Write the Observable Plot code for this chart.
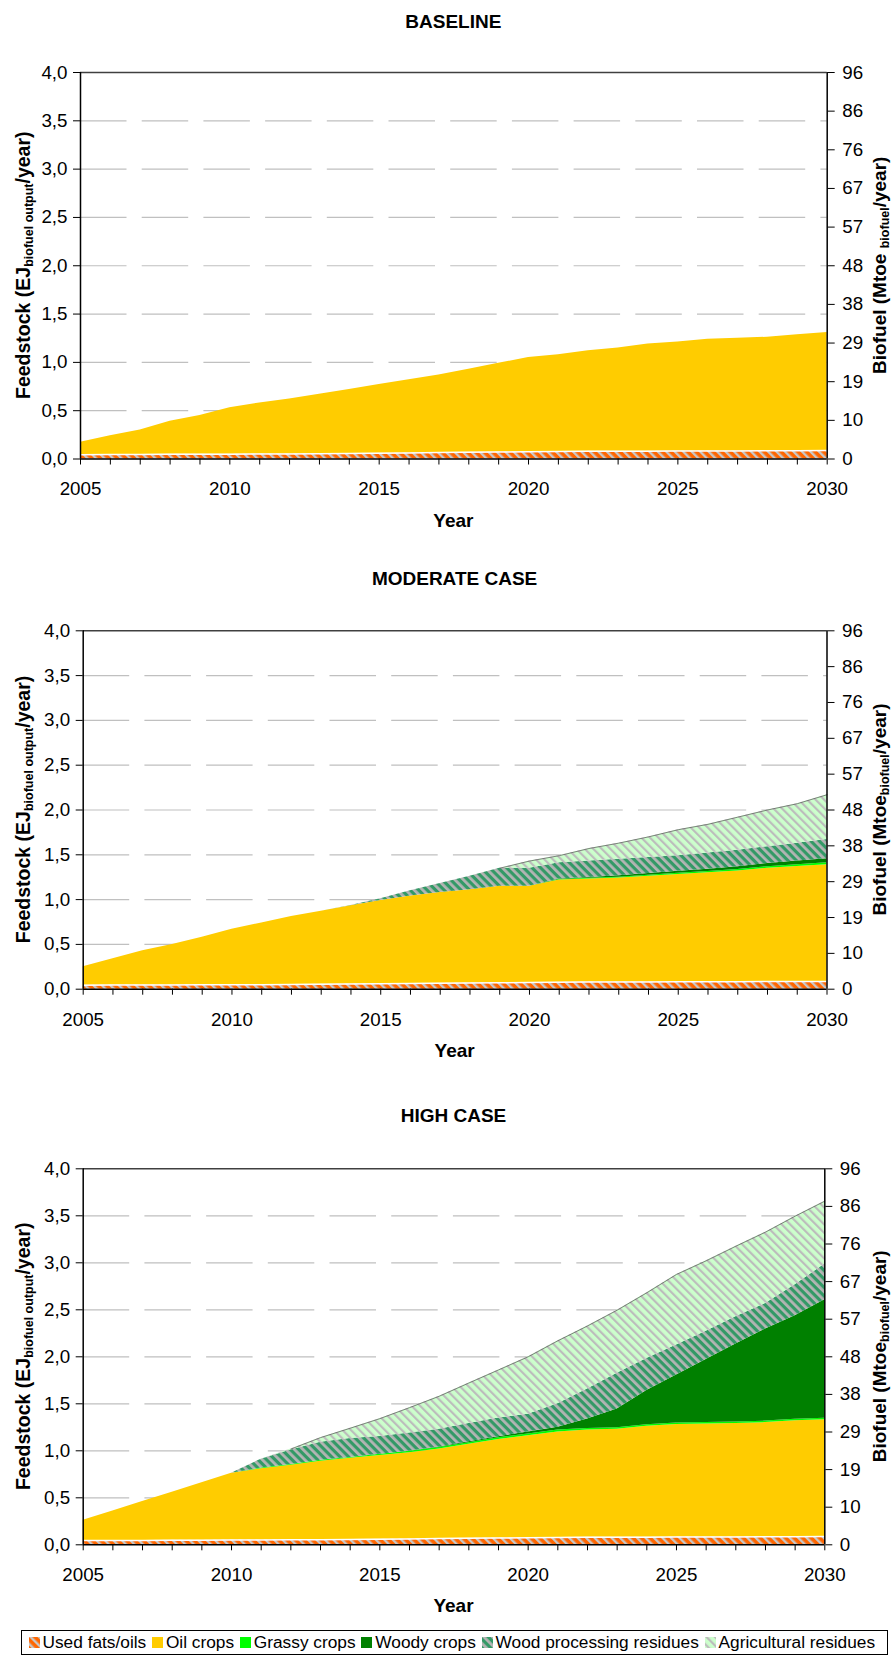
<!DOCTYPE html>
<html>
<head>
<meta charset="utf-8">
<script src="https://cdn.jsdelivr.net/npm/d3@7"></script>
<script src="https://cdn.jsdelivr.net/npm/@observablehq/plot@0.6"></script>
<style>
  html, body { margin: 0; padding: 0; background: #fff; }
  body { width: 893px; height: 1655px; position: relative; overflow: hidden;
         font-family: "Liberation Sans", Arial, sans-serif; color: #000; }
  .title { position: absolute; font-weight: bold; font-size: 19px; line-height: 19px;
           white-space: nowrap; transform: translateX(-50%); }
  .chart { position: absolute; left: 0; }
  .legend { position: absolute; left: 21px; top: 1630px; width: 858px; height: 23px;
            border: 1.5px solid #000; display: flex; align-items: center;
            font-size: 17.3px; padding-left: 6.5px; box-sizing: content-box; white-space: nowrap; }
  .legend .item { display: flex; align-items: center; margin-right: 5.7px; }
  .legend svg { margin-right: 3px; display: block; }
</style>
</head>
<body>
<svg width="0" height="0" style="position:absolute">
  <defs>
    <pattern id="pat-used" patternUnits="userSpaceOnUse" width="6" height="6" patternTransform="rotate(-45)">
      <rect width="6" height="6" fill="#ff6600"></rect>
      <rect width="2.4" height="6" fill="#c8c8c8"></rect>
    </pattern>
    <pattern id="pat-wood" patternUnits="userSpaceOnUse" width="6" height="6" patternTransform="rotate(-45)">
      <rect width="6" height="6" fill="#339966"></rect>
      <rect width="2.8" height="6" fill="#b4b4b4"></rect>
    </pattern>
    <pattern id="pat-agri" patternUnits="userSpaceOnUse" width="6" height="6" patternTransform="rotate(-45)">
      <rect width="6" height="6" fill="#ccffcc"></rect>
      <rect width="2.2" height="6" fill="#bcbcbc"></rect>
    </pattern>
  </defs>
</svg>
<div id="root"></div>
<script>
// ---- data (EJ of biofuel output per year) ----
const years = [2005, 2006, 2007, 2008, 2009, 2010, 2011, 2012, 2013, 2014, 2015, 2016, 2017,
               2018, 2019, 2020, 2021, 2022, 2023, 2024, 2025, 2026, 2027, 2028, 2029, 2030];

const seriesNames = ["Used fats/oils", "Oil crops", "Grassy crops", "Woody crops",
                     "Wood processing residues", "Agricultural residues"];
const seriesFills = ["url(#pat-used)", "#ffcc00", "#00ff00", "#008000", "url(#pat-wood)", "url(#pat-agri)"];

const scenarioTitles = ["BASELINE", "MODERATE CASE", "HIGH CASE"];

const usedFatsOils = [0.045, 0.046, 0.047, 0.048, 0.049, 0.050, 0.051, 0.053, 0.055, 0.057, 0.060, 0.063, 0.066,
                      0.069, 0.072, 0.075, 0.077, 0.079, 0.080, 0.081, 0.082, 0.083, 0.084, 0.085, 0.086, 0.087];

const zeros = [0, 0, 0, 0, 0, 0, 0, 0, 0, 0, 0, 0, 0, 0, 0, 0, 0, 0, 0, 0, 0, 0, 0, 0, 0, 0];

// Baseline
const baselineOilCrops = [0.129, 0.194, 0.253, 0.342, 0.401, 0.480, 0.529, 0.567, 0.615, 0.663, 0.710, 0.757, 0.804,
                          0.861, 0.918, 0.975, 1.003, 1.041, 1.070, 1.109, 1.128, 1.157, 1.166, 1.175, 1.199, 1.223];

// Moderate case
const moderateOilCrops = [0.205, 0.294, 0.383, 0.452, 0.531, 0.620, 0.689, 0.757, 0.815, 0.873, 0.930, 0.977, 1.014,
                          1.041, 1.078, 1.075, 1.143, 1.151, 1.160, 1.179, 1.198, 1.217, 1.236, 1.265, 1.284, 1.303];
const moderateGrassyCrops = [0, 0, 0, 0, 0, 0, 0, 0, 0, 0, 0, 0, 0,
                             0, 0, 0, 0.005, 0.008, 0.010, 0.012, 0.014, 0.015, 0.016, 0.018, 0.020, 0.022];
const moderateWoodyCrops = [0, 0, 0, 0, 0, 0, 0, 0, 0, 0, 0, 0, 0,
                            0, 0, 0, 0.005, 0.010, 0.015, 0.020, 0.022, 0.025, 0.030, 0.035, 0.040, 0.045];
const moderateWoodResidues = [0, 0, 0, 0, 0, 0, 0, 0, 0, 0.005, 0.020, 0.060, 0.100,
                              0.150, 0.200, 0.200, 0.180, 0.182, 0.185, 0.178, 0.174, 0.180, 0.184, 0.187, 0.200, 0.213];
const moderateAgriResidues = [0, 0, 0, 0, 0, 0, 0, 0, 0, 0, 0, 0, 0,
                              0, 0, 0.080, 0.080, 0.140, 0.180, 0.230, 0.290, 0.320, 0.370, 0.410, 0.440, 0.500];

// High case
const highOilCrops = [0.215, 0.314, 0.413, 0.512, 0.611, 0.710, 0.759, 0.792, 0.835, 0.863, 0.890, 0.917, 0.954,
                      1.001, 1.048, 1.085, 1.123, 1.141, 1.150, 1.179, 1.198, 1.202, 1.206, 1.215, 1.234, 1.243];
const highGrassyCrops = [0, 0, 0, 0, 0, 0, 0.006, 0.008, 0.010, 0.010, 0.012, 0.014, 0.015,
                         0.016, 0.018, 0.020, 0.020, 0.018, 0.016, 0.016, 0.016, 0.016, 0.016, 0.016, 0.016, 0.016];
const highWoodyCrops = [0, 0, 0, 0, 0, 0, 0, 0, 0, 0, 0, 0, 0.005,
                        0.010, 0.012, 0.020, 0.030, 0.100, 0.200, 0.365, 0.510, 0.670, 0.830, 0.980, 1.100, 1.260];
const highWoodResidues = [0, 0, 0, 0, 0, 0, 0.095, 0.155, 0.190, 0.200, 0.190, 0.195, 0.190,
                          0.195, 0.200, 0.190, 0.250, 0.320, 0.380, 0.340, 0.320, 0.300, 0.290, 0.270, 0.330, 0.380];
const highAgriResidues = [0, 0, 0, 0, 0, 0, 0, 0.010, 0.050, 0.110, 0.190, 0.270, 0.350,
                          0.430, 0.510, 0.610, 0.670, 0.670, 0.670, 0.700, 0.750, 0.750, 0.750, 0.760, 0.730, 0.670];

// ---- axis ticks ----
const leftTicks = [0, 0.5, 1, 1.5, 2, 2.5, 3, 3.5, 4];
const leftTickLabels = ["0,0", "0,5", "1,0", "1,5", "2,0", "2,5", "3,0", "3,5", "4,0"];
const gridTicks = [0.5, 1, 1.5, 2, 2.5, 3, 3.5];
// right axis: Mtoe equivalents at every 0.4 EJ
const rightTicks = [0, 0.4, 0.8, 1.2, 1.6, 2, 2.4, 2.8, 3.2, 3.6, 4];
const rightTickLabels = ["0", "10", "19", "29", "38", "48", "57", "67", "76", "86", "96"];
const labeledYears = [2005, 2010, 2015, 2020, 2025, 2030];

const scenarios = [
  [usedFatsOils, baselineOilCrops, zeros, zeros, zeros, zeros],
  [usedFatsOils, moderateOilCrops, moderateGrassyCrops, moderateWoodyCrops, moderateWoodResidues, moderateAgriResidues],
  [usedFatsOils, highOilCrops, highGrassyCrops, highWoodyCrops, highWoodResidues, highAgriResidues]
];

// ---- layout of the three panels (page pixels) ----
const panels = [
  {svgTop: 50, svgHeight: 490, plotTop: 72, plotBottom: 458.5, plotLeft: 80, plotRight: 826.7,
   titleY: 21.7, spacedUnit: true, outlineFrom: null},
  {svgTop: 605, svgHeight: 475, plotTop: 630.3, plotBottom: 988.7, plotLeft: 82.7, plotRight: 826.5,
   titleY: 578, spacedUnit: false, outlineFrom: 2019},
  {svgTop: 1140, svgHeight: 485, plotTop: 1168.3, plotBottom: 1544.3, plotLeft: 82.7, plotRight: 824.3,
   titleY: 1115, spacedUnit: false, outlineFrom: 2012}
];

const root = document.getElementById("root");
const font = "'Liberation Sans', Arial, sans-serif";

panels.forEach((p, k) => {
  const series = scenarios[k];
  const rows = seriesNames.flatMap((name, s) =>
    years.map((year, i) => ({year, series: name, value: series[s][i]})));
  const totals = years.map((year, i) => ({year, total: series.reduce((a, arr) => a + arr[i], 0)}));
  const fatsTop = years.map((year, i) => ({year, value: usedFatsOils[i]}));

  const marks = [
    Plot.ruleY(gridTicks, {stroke: "#c0c0c0", strokeWidth: 1.2, strokeDasharray: "46.5 15.2"}),
    Plot.areaY(rows, {x: "year", y: "value", z: "series", fill: "series"}),
    Plot.lineY(fatsTop, {x: "year", y: "value", stroke: "#fff", strokeWidth: 1.5})
  ];
  if (p.outlineFrom != null) {
    marks.push(Plot.lineY(totals.filter(d => d.year >= p.outlineFrom),
      {x: "year", y: "total", stroke: "#666", strokeWidth: 0.8}));
  }
  marks.push(
    Plot.ruleY([4], {stroke: "#404040", strokeWidth: 1.5}),
    Plot.ruleY([0], {stroke: "#000", strokeWidth: 1.5}),
    Plot.ruleX([2005], {stroke: "#000", strokeWidth: 1.5}),
    Plot.ruleX([2030], {stroke: "#000", strokeWidth: 1.5}),
    Plot.axisX({ticks: years, tickSize: 6, tickPadding: 17, label: null,
                tickFormat: d => labeledYears.includes(d) ? String(d) : ""}),
    Plot.axisY({ticks: leftTicks, tickSize: 7, tickPadding: 6, label: null,
                tickFormat: d => leftTickLabels[leftTicks.indexOf(d)]}),
    Plot.axisY({anchor: "right", ticks: rightTicks, tickSize: 7, tickPadding: 8, label: null,
                tickFormat: d => rightTickLabels[rightTicks.indexOf(d)]})
  );

  const chart = Plot.plot({
    width: 893,
    height: p.svgHeight,
    marginTop: p.plotTop - p.svgTop,
    marginBottom: p.svgTop + p.svgHeight - p.plotBottom,
    marginLeft: p.plotLeft,
    marginRight: 893 - p.plotRight,
    x: {domain: [2005, 2030]},
    y: {domain: [0, 4]},
    color: {type: "ordinal", domain: seriesNames, range: seriesFills},
    style: {fontFamily: font, fontSize: "18.75px", color: "#000", background: "transparent", overflow: "visible"},
    marks
  });

  const wrap = document.createElement("div");
  wrap.className = "chart";
  wrap.style.top = p.svgTop + "px";
  wrap.appendChild(chart);
  root.appendChild(wrap);

  const svg = d3.select(chart);
  const cy = (p.plotTop + p.plotBottom) / 2 - p.svgTop;
  const cx = (p.plotLeft + p.plotRight) / 2;

  // left axis title
  const lt = svg.append("text")
    .attr("transform", `translate(29.5,${cy}) rotate(-90)`)
    .attr("text-anchor", "middle").attr("font-weight", "bold").attr("font-size", 19.5).attr("fill", "#000");
  lt.append("tspan").text("Feedstock (EJ");
  lt.append("tspan").attr("font-size", 12.5).attr("dy", 3).text("biofuel output");
  lt.append("tspan").attr("dy", -3).text("/year)");

  // right axis title
  const rt = svg.append("text")
    .attr("transform", `translate(886,${cy}) rotate(-90)`)
    .attr("text-anchor", "middle").attr("font-weight", "bold").attr("font-size", 19).attr("fill", "#000");
  rt.append("tspan").text(p.spacedUnit ? "Biofuel (Mtoe " : "Biofuel (Mtoe");
  rt.append("tspan").attr("font-size", 12.5).attr("dy", 3).text("biofuel");
  rt.append("tspan").attr("dy", -3).text("/year)");

  // x axis title
  svg.append("text")
    .attr("x", cx).attr("y", p.plotBottom + 61.5 - p.svgTop).attr("dy", "0.35em")
    .attr("text-anchor", "middle").attr("font-weight", "bold").attr("font-size", 19).attr("fill", "#000")
    .text("Year");

  // panel title
  const t = document.createElement("div");
  t.className = "title";
  t.style.left = cx + "px";
  t.style.top = (p.titleY - 9.5) + "px";
  t.textContent = scenarioTitles[k];
  root.appendChild(t);
});

// ---- legend ----
const legend = document.createElement("div");
legend.className = "legend";
seriesNames.forEach((name, s) => {
  const item = document.createElement("span");
  item.className = "item";
  item.innerHTML = `<svg width="11" height="11"><rect width="11" height="11" fill="${seriesFills[s]}"></rect></svg>`;
  const label = document.createElement("span");
  label.textContent = name;
  item.appendChild(label);
  legend.appendChild(item);
});
root.appendChild(legend);
</script>
</body>
</html>
